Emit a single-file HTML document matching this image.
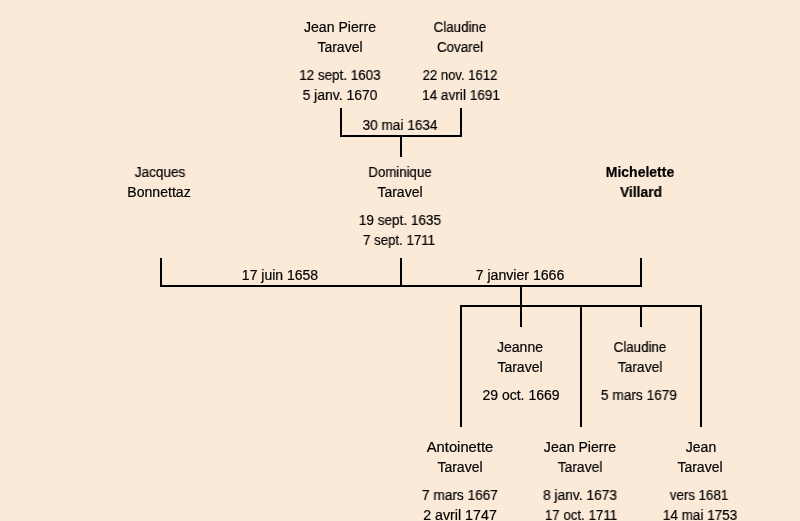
<!DOCTYPE html>
<html><head><meta charset="utf-8"><title>Taravel</title><style>
html,body{margin:0;padding:0}
body{width:800px;height:521px;overflow:hidden;position:relative;background:#FCEAD8;font-family:"Liberation Sans",sans-serif;font-size:14px;color:#000}
.t{position:absolute;width:200px;text-align:center;line-height:16px;height:16px;white-space:nowrap;transform-origin:100px 50%;will-change:transform;-webkit-text-stroke:0.2px #000}
.b{font-weight:bold}
.l{position:absolute;background:#000}
</style></head><body>
<div class="l" style="left:340px;top:108px;width:2px;height:29px"></div>
<div class="l" style="left:460px;top:108px;width:2px;height:29px"></div>
<div class="l" style="left:340px;top:135px;width:122px;height:2px"></div>
<div class="l" style="left:400px;top:135px;width:2px;height:22px"></div>
<div class="l" style="left:160px;top:258px;width:2px;height:29px"></div>
<div class="l" style="left:400px;top:258px;width:2px;height:29px"></div>
<div class="l" style="left:640px;top:258px;width:2px;height:29px"></div>
<div class="l" style="left:160px;top:285px;width:482px;height:2px"></div>
<div class="l" style="left:520px;top:285px;width:2px;height:42px"></div>
<div class="l" style="left:460px;top:305px;width:242px;height:2px"></div>
<div class="l" style="left:460px;top:305px;width:2px;height:122px"></div>
<div class="l" style="left:580px;top:305px;width:2px;height:122px"></div>
<div class="l" style="left:700px;top:305px;width:2px;height:122px"></div>
<div class="l" style="left:640px;top:305px;width:2px;height:22px"></div>
<div class="t" style="left:239.50px;top:19.15px;transform:scaleX(1.006)">Jean Pierre</div>
<div class="t" style="left:240.30px;top:39.15px">Taravel</div>
<div class="t" style="left:239.85px;top:67.15px;transform:scaleX(0.960)">12 sept. 1603</div>
<div class="t" style="left:240.05px;top:87.15px;transform:scaleX(0.996)">5 janv. 1670</div>
<div class="t" style="left:360.10px;top:19.15px;transform:scaleX(0.952)">Claudine</div>
<div class="t" style="left:360.00px;top:39.15px;transform:scaleX(0.957)">Covarel</div>
<div class="t" style="left:360.40px;top:67.15px;transform:scaleX(0.933)">22 nov. 1612</div>
<div class="t" style="left:360.55px;top:87.15px;transform:scaleX(0.973)">14 avril 1691</div>
<div class="t" style="left:299.70px;top:117.15px;transform:scaleX(0.974)">30 mai 1634</div>
<div class="t" style="left:59.85px;top:164.15px;transform:scaleX(0.971)">Jacques</div>
<div class="t" style="left:59.45px;top:184.15px;transform:scaleX(1.005)">Bonnettaz</div>
<div class="t" style="left:299.60px;top:164.15px;transform:scaleX(0.945)">Dominique</div>
<div class="t" style="left:300.00px;top:184.15px">Taravel</div>
<div class="t" style="left:299.70px;top:212.15px;transform:scaleX(0.969)">19 sept. 1635</div>
<div class="t" style="left:299.25px;top:232.15px;transform:scaleX(0.947)">7 sept. 1711</div>
<div class="t b" style="left:539.60px;top:164.15px">Michelette</div>
<div class="t b" style="left:541.40px;top:184.15px;transform:scaleX(0.985)">Villard</div>
<div class="t" style="left:180.00px;top:267.15px">17 juin 1658</div>
<div class="t" style="left:419.85px;top:267.15px;transform:scaleX(1.008)">7 janvier 1666</div>
<div class="t" style="left:420.20px;top:339.15px;transform:scaleX(0.995)">Jeanne</div>
<div class="t" style="left:420.30px;top:359.15px">Taravel</div>
<div class="t" style="left:420.50px;top:387.15px">29 oct. 1669</div>
<div class="t" style="left:540.10px;top:339.15px;transform:scaleX(0.952)">Claudine</div>
<div class="t" style="left:540.25px;top:359.15px;transform:scaleX(0.989)">Taravel</div>
<div class="t" style="left:539.15px;top:387.15px;transform:scaleX(0.978)">5 mars 1679</div>
<div class="t" style="left:359.75px;top:439.15px;transform:scaleX(1.056)">Antoinette</div>
<div class="t" style="left:360.30px;top:459.15px">Taravel</div>
<div class="t" style="left:359.50px;top:487.15px;transform:scaleX(0.976)">7 mars 1667</div>
<div class="t" style="left:359.95px;top:507.15px;transform:scaleX(1.018)">2 avril 1747</div>
<div class="t" style="left:479.55px;top:439.15px;transform:scaleX(1.010)">Jean Pierre</div>
<div class="t" style="left:480.25px;top:459.15px;transform:scaleX(0.989)">Taravel</div>
<div class="t" style="left:479.85px;top:487.15px;transform:scaleX(0.985)">8 janv. 1673</div>
<div class="t" style="left:480.50px;top:507.15px;transform:scaleX(0.951)">17 oct. 1711</div>
<div class="t" style="left:600.85px;top:439.15px">Jean</div>
<div class="t" style="left:600.20px;top:459.15px">Taravel</div>
<div class="t" style="left:599.25px;top:487.15px;transform:scaleX(0.948)">vers 1681</div>
<div class="t" style="left:599.55px;top:507.15px;transform:scaleX(0.964)">14 mai 1753</div>
</body></html>
